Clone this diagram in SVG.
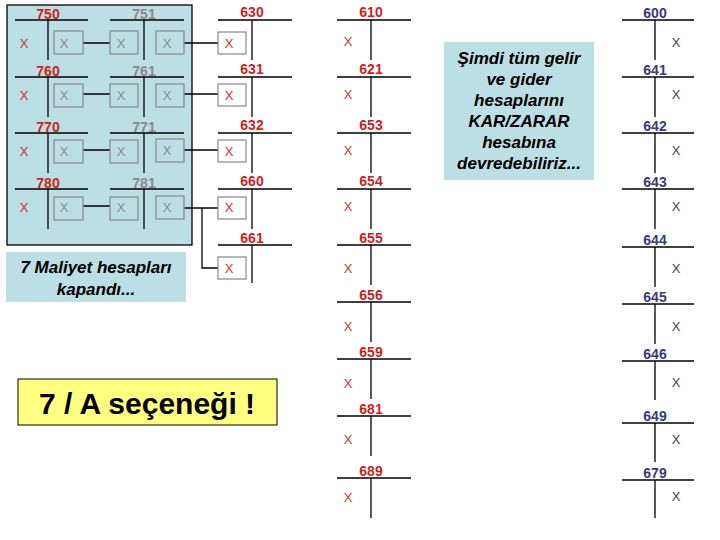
<svg xmlns="http://www.w3.org/2000/svg" width="720" height="540" viewBox="0 0 720 540">
<style>
.t{stroke:#000;stroke-width:1.3;fill:none}
.b{stroke:#888;stroke-width:1.2}
.r{fill:#cc1f1f;font-family:"Liberation Sans",Arial,sans-serif;font-weight:bold;font-size:14px;text-anchor:middle}
.g{fill:#8a8a8a;font-family:"Liberation Sans",Arial,sans-serif;font-weight:bold;font-size:14px;text-anchor:middle}
.n{fill:#3a3a7a;font-family:"Liberation Sans",Arial,sans-serif;font-weight:bold;font-size:14px;text-anchor:middle}
.x{fill:#cc3333;font-family:"Liberation Sans",Arial,sans-serif;font-size:13px;text-anchor:middle}
.xg{fill:#8a8a8a;font-family:"Liberation Sans",Arial,sans-serif;font-size:13px;text-anchor:middle}
.xk{fill:#444;font-family:"Liberation Sans",Arial,sans-serif;font-size:13px;text-anchor:middle}
.c{fill:#000;font-family:"Liberation Sans",Arial,sans-serif;font-weight:bold;font-style:italic;font-size:17px;text-anchor:middle}
</style>
<rect width="720" height="540" fill="#fff"/>
<rect id="panel" x="7" y="5" width="185" height="240" fill="#bcdfe3" stroke="#000" stroke-width="1.3"/>
<g id="connectors" class="t">
<path d="M83 43H110M184 43H218M83 94H110M184 94H218M83 150H110M184 150H218M83 206H110"/>
<path d="M184 208H202V268H218M202 208H218"/>
</g>
<g id="panel-accounts">
<g id="a750"><path class="t" d="M15 20H88M48 20V60M110 20H184M144 20V60"/><text class="r" x="48" y="19">750</text><text class="g" x="144" y="19">751</text><text class="x" x="24" y="48">X</text>
<rect class="b" x="54" y="31" width="29" height="23" fill="#bcdfe3"/><text class="xg" x="64" y="48">X</text>
<rect class="b" x="110" y="31" width="28" height="23" fill="#bcdfe3"/><text class="xg" x="121" y="48">X</text>
<rect class="b" x="156" y="31" width="28" height="23" fill="#bcdfe3"/><text class="xg" x="167" y="48">X</text></g>
<g id="a760"><path class="t" d="M15 77H88M48 77V117M110 77H184M144 77V117"/><text class="r" x="48" y="76">760</text><text class="g" x="144" y="76">761</text><text class="x" x="24" y="100">X</text>
<rect class="b" x="54" y="84" width="29" height="23" fill="#bcdfe3"/><text class="xg" x="64" y="100">X</text>
<rect class="b" x="110" y="84" width="28" height="23" fill="#bcdfe3"/><text class="xg" x="121" y="100">X</text>
<rect class="b" x="156" y="84" width="28" height="23" fill="#bcdfe3"/><text class="xg" x="167" y="100">X</text></g>
<g id="a770"><path class="t" d="M15 133H88M48 133V173M110 133H184M144 133V173"/><text class="r" x="48" y="132">770</text><text class="g" x="144" y="132">771</text><text class="x" x="24" y="156">X</text>
<rect class="b" x="54" y="140" width="29" height="23" fill="#bcdfe3"/><text class="xg" x="64" y="156">X</text>
<rect class="b" x="110" y="140" width="28" height="23" fill="#bcdfe3"/><text class="xg" x="121" y="156">X</text>
<rect class="b" x="156" y="139" width="28" height="23" fill="#bcdfe3"/><text class="xg" x="167" y="155">X</text></g>
<g id="a780"><path class="t" d="M15 189H88M48 189V229M110 189H184M144 189V229"/><text class="r" x="48" y="188">780</text><text class="g" x="144" y="188">781</text><text class="x" x="24" y="212">X</text>
<rect class="b" x="54" y="197" width="29" height="23" fill="#bcdfe3"/><text class="xg" x="64" y="212">X</text>
<rect class="b" x="110" y="197" width="28" height="23" fill="#bcdfe3"/><text class="xg" x="121" y="212">X</text>
<rect class="b" x="156" y="196" width="28" height="23" fill="#bcdfe3"/><text class="xg" x="167" y="212">X</text></g>
</g>
<g id="col63">
<g id="a630"><path class="t" d="M218 20H292M252 20V60"/><text class="r" x="252" y="17">630</text><rect class="b" x="218" y="32" width="28" height="22" fill="#fff"/><text class="x" x="229" y="48">X</text></g>
<g id="a631"><path class="t" d="M218 77H292M252 77V117"/><text class="r" x="252" y="74">631</text><rect class="b" x="218" y="84" width="28" height="22" fill="#fff"/><text class="x" x="229" y="100">X</text></g>
<g id="a632"><path class="t" d="M218 133H292M252 133V173"/><text class="r" x="252" y="130">632</text><rect class="b" x="218" y="140" width="28" height="22" fill="#fff"/><text class="x" x="229" y="156">X</text></g>
<g id="a660"><path class="t" d="M218 189H292M252 189V229"/><text class="r" x="252" y="186">660</text><rect class="b" x="218" y="197" width="28" height="22" fill="#fff"/><text class="x" x="229" y="212">X</text></g>
<g id="a661"><path class="t" d="M218 245H292M252 245V283"/><text class="r" x="252" y="243">661</text><rect class="b" x="218" y="257" width="28" height="22" fill="#fff"/><text class="x" x="229" y="273">X</text></g>
</g>
<g id="col6m">
<g id="a610"><path class="t" d="M337 20H411M371 20V60"/><text class="r" x="371" y="17">610</text><text class="x" x="348" y="46">X</text></g>
<g id="a621"><path class="t" d="M337 77H411M371 77V117"/><text class="r" x="371" y="74">621</text><text class="x" x="348" y="99">X</text></g>
<g id="a653"><path class="t" d="M337 133H411M371 133V173"/><text class="r" x="371" y="130">653</text><text class="x" x="348" y="155">X</text></g>
<g id="a654"><path class="t" d="M337 189H411M371 189V229"/><text class="r" x="371" y="186">654</text><text class="x" x="348" y="211">X</text></g>
<g id="a655"><path class="t" d="M337 245H411M371 245V285"/><text class="r" x="371" y="243">655</text><text class="x" x="348" y="273">X</text></g>
<g id="a656"><path class="t" d="M337 302H411M371 302V342"/><text class="r" x="371" y="300">656</text><text class="x" x="348" y="331">X</text></g>
<g id="a659"><path class="t" d="M337 359H411M371 359V399"/><text class="r" x="371" y="357">659</text><text class="x" x="348" y="388">X</text></g>
<g id="a681"><path class="t" d="M337 416H411M371 416V456"/><text class="r" x="371" y="414">681</text><text class="x" x="348" y="444">X</text></g>
<g id="a689"><path class="t" d="M337 478H411M371 478V518"/><text class="r" x="371" y="476">689</text><text class="x" x="348" y="502">X</text></g>
</g>
<g id="col6r">
<g id="a600"><path class="t" d="M622 20H694M655 20V60"/><text class="n" x="655" y="18">600</text><text class="xk" x="676" y="47">X</text></g>
<g id="a641"><path class="t" d="M622 77H694M655 77V117"/><text class="n" x="655" y="75">641</text><text class="xk" x="676" y="99">X</text></g>
<g id="a642"><path class="t" d="M622 133H694M655 133V173"/><text class="n" x="655" y="131">642</text><text class="xk" x="676" y="155">X</text></g>
<g id="a643"><path class="t" d="M622 189H694M655 189V229"/><text class="n" x="655" y="187">643</text><text class="xk" x="676" y="211">X</text></g>
<g id="a644"><path class="t" d="M622 247H694M655 247V287"/><text class="n" x="655" y="245">644</text><text class="xk" x="676" y="273">X</text></g>
<g id="a645"><path class="t" d="M622 304H694M655 304V344"/><text class="n" x="655" y="302">645</text><text class="xk" x="676" y="331">X</text></g>
<g id="a646"><path class="t" d="M622 361H694M655 361V400"/><text class="n" x="655" y="359">646</text><text class="xk" x="676" y="387">X</text></g>
<g id="a649"><path class="t" d="M622 423H694M655 423V462"/><text class="n" x="655" y="421">649</text><text class="xk" x="676" y="444">X</text></g>
<g id="a679"><path class="t" d="M622 480H694M655 480V518"/><text class="n" x="655" y="478">679</text><text class="xk" x="676" y="501">X</text></g>
</g>
<g id="caption1"><rect x="6" y="252" width="180" height="50" fill="#bcdfe3"/><text class="c" x="96" y="273">7 Maliyet hesapları</text><text class="c" x="96" y="295">kapandı...</text></g>
<g id="caption2"><rect x="444" y="42" width="150" height="138" fill="#bcdfe3"/>
<text class="c" x="519" y="64">Şimdi tüm gelir</text><text class="c" x="519" y="85">ve gider</text><text class="c" x="519" y="106">hesaplarını</text><text class="c" x="519" y="127">KAR/ZARAR</text><text class="c" x="519" y="148">hesabına</text><text class="c" x="519" y="169">devredebiliriz...</text></g>
<g id="caption3"><rect x="18" y="379" width="259" height="46" fill="#ffff80" stroke="#000" stroke-width="1"/><text x="147" y="414" font-family="Liberation Sans,Arial,sans-serif" font-weight="bold" font-size="30" text-anchor="middle" fill="#000">7 / A seçeneği !</text></g>
</svg>
